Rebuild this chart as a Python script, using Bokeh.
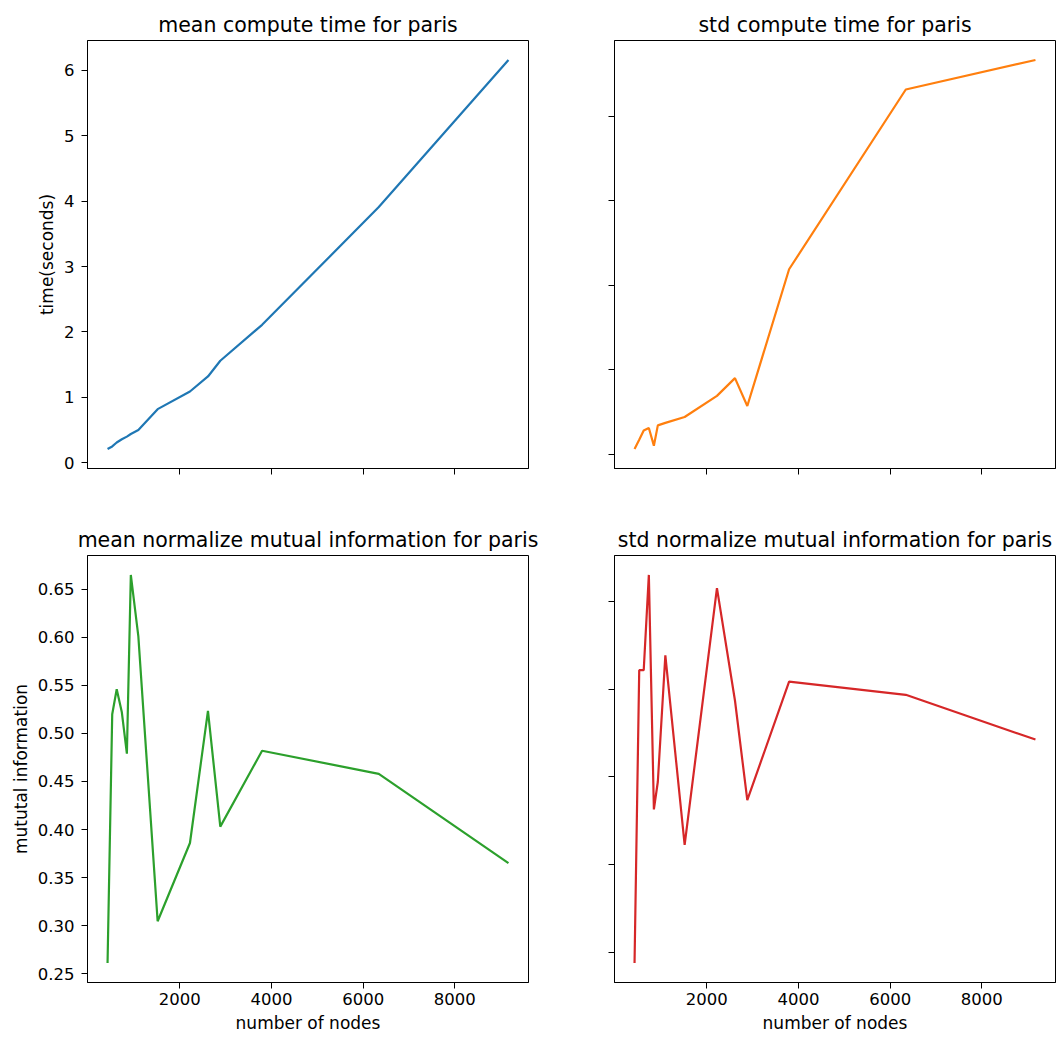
from bokeh.plotting import figure
from bokeh.layouts import column, row
from bokeh.models import Range1d, FixedTicker, CustomJSTickFormatter, NumeralTickFormatter
from bokeh.embed import file_html
from bokeh.resources import INLINE

# ---- data ----
nodes = [423, 525, 623, 735, 845, 931, 1095, 1516, 2221, 2614, 2883, 3795, 6341, 9170]
mean_time = [0.21, 0.25, 0.31, 0.36, 0.40, 0.44, 0.50, 0.82, 1.09, 1.32, 1.56, 2.11, 3.91, 6.16]
std_time = [0.006, 0.017, 0.028, 0.031, 0.010, 0.034, 0.037, 0.044, 0.069, 0.090, 0.057, 0.219, 0.432, 0.467]
mean_nmi = [0.261, 0.520, 0.546, 0.522, 0.479, 0.665, 0.601, 0.3045, 0.386, 0.5235, 0.403, 0.482, 0.458, 0.365]
std_nmi = [0.0176, 0.0843, 0.0843, 0.1060, 0.0526, 0.0589, 0.0877, 0.0445, 0.1030, 0.0774, 0.0547, 0.0817, 0.0787, 0.0685]

x_ticks = [2000, 4000, 6000, 8000]
mean_time_ticks = [0, 1, 2, 3, 4, 5, 6]
std_time_ticks = [0.0, 0.1, 0.2, 0.3, 0.4]
mean_nmi_ticks = [0.25, 0.30, 0.35, 0.40, 0.45, 0.50, 0.55, 0.60, 0.65]
std_nmi_ticks = [0.02, 0.04, 0.06, 0.08, 0.10]

titles = ["mean compute time for paris", "std compute time for paris",
          "mean normalize mutual information for paris", "std normalize mutual information for paris"]
colors = ["#1f77b4", "#ff7f0e", "#2ca02c", "#d62728"]
x_label = "number of nodes"
y_labels = ["time(seconds)", "mututal information"]

FONT = "DejaVu Sans"


def padded(vals):
    lo, hi = min(vals), max(vals)
    m = 0.05 * (hi - lo)
    return Range1d(lo - m, hi + m)


x_range = padded(nodes)


def panel(title, y, color, yticks, width, height, borders, show_xlab, show_ylab,
          xlabel=None, ylabel=None, yfmt=None, standoff=8):
    p = figure(width=width, height=height, x_range=x_range, y_range=padded(y),
               output_backend="svg", toolbar_location=None,
               min_border_left=borders[0], min_border_right=borders[1],
               min_border_top=borders[2], min_border_bottom=borders[3])
    p.line(nodes, y, line_color=color, line_width=2.2)
    p.title.text = title
    p.title.align = "center"
    p.title.text_font = FONT
    p.title.text_font_size = "20.5px"
    p.title.text_font_style = "normal"
    p.title.text_color = "black"
    p.title.standoff = standoff
    p.outline_line_color = "black"
    p.outline_line_width = 1
    p.xgrid.grid_line_color = None
    p.ygrid.grid_line_color = None
    p.background_fill_color = "white"
    p.border_fill_color = "white"
    p.xaxis.ticker = FixedTicker(ticks=x_ticks)
    p.yaxis.ticker = FixedTicker(ticks=yticks)
    for ax in (p.xaxis[0], p.yaxis[0]):
        ax.axis_line_color = "black"
        ax.major_tick_line_color = "black"
        ax.major_tick_out = 6
        ax.major_tick_in = 0
        ax.minor_tick_line_color = None
        ax.major_label_text_font = FONT
        ax.major_label_text_font_size = "16.5px"
        ax.major_label_text_color = "black"
        ax.axis_label_text_font = FONT
        ax.axis_label_text_font_size = "17px"
        ax.axis_label_text_font_style = "normal"
        ax.axis_label_text_color = "black"
    p.xaxis.major_label_standoff = 4
    p.xaxis.axis_label_standoff = 5
    p.yaxis.major_label_standoff = 7
    p.yaxis.axis_label_standoff = 4
    if show_xlab:
        p.xaxis.axis_label = xlabel
    else:
        p.xaxis.formatter = CustomJSTickFormatter(code="return ''")
    if show_ylab:
        p.yaxis.axis_label = ylabel
        if yfmt:
            p.yaxis.formatter = NumeralTickFormatter(format=yfmt)
    else:
        p.yaxis.formatter = CustomJSTickFormatter(code="return ''")
    return p


LW, RW = 584, 473
TH, BH = 508, 528

p1 = panel(titles[0], mean_time, colors[0], mean_time_ticks, LW, TH, (87, 56, 40, 40),
           False, True, ylabel=y_labels[0], yfmt="0", standoff=8)
p2 = panel(titles[1], std_time, colors[1], std_time_ticks, RW, TH, (30, 2, 40, 40),
           False, False, standoff=8)
p3 = panel(titles[2], mean_nmi, colors[2], mean_nmi_ticks, LW, BH, (87, 56, 47, 54),
           True, True, xlabel=x_label, ylabel=y_labels[1], yfmt="0.00", standoff=7)
p4 = panel(titles[3], std_nmi, colors[3], std_nmi_ticks, RW, BH, (30, 2, 47, 54),
           True, False, xlabel=x_label, standoff=7)

layout = column(row(p1, p2), row(p3, p4))

open("out.html", "w").write(file_html(layout, INLINE))
